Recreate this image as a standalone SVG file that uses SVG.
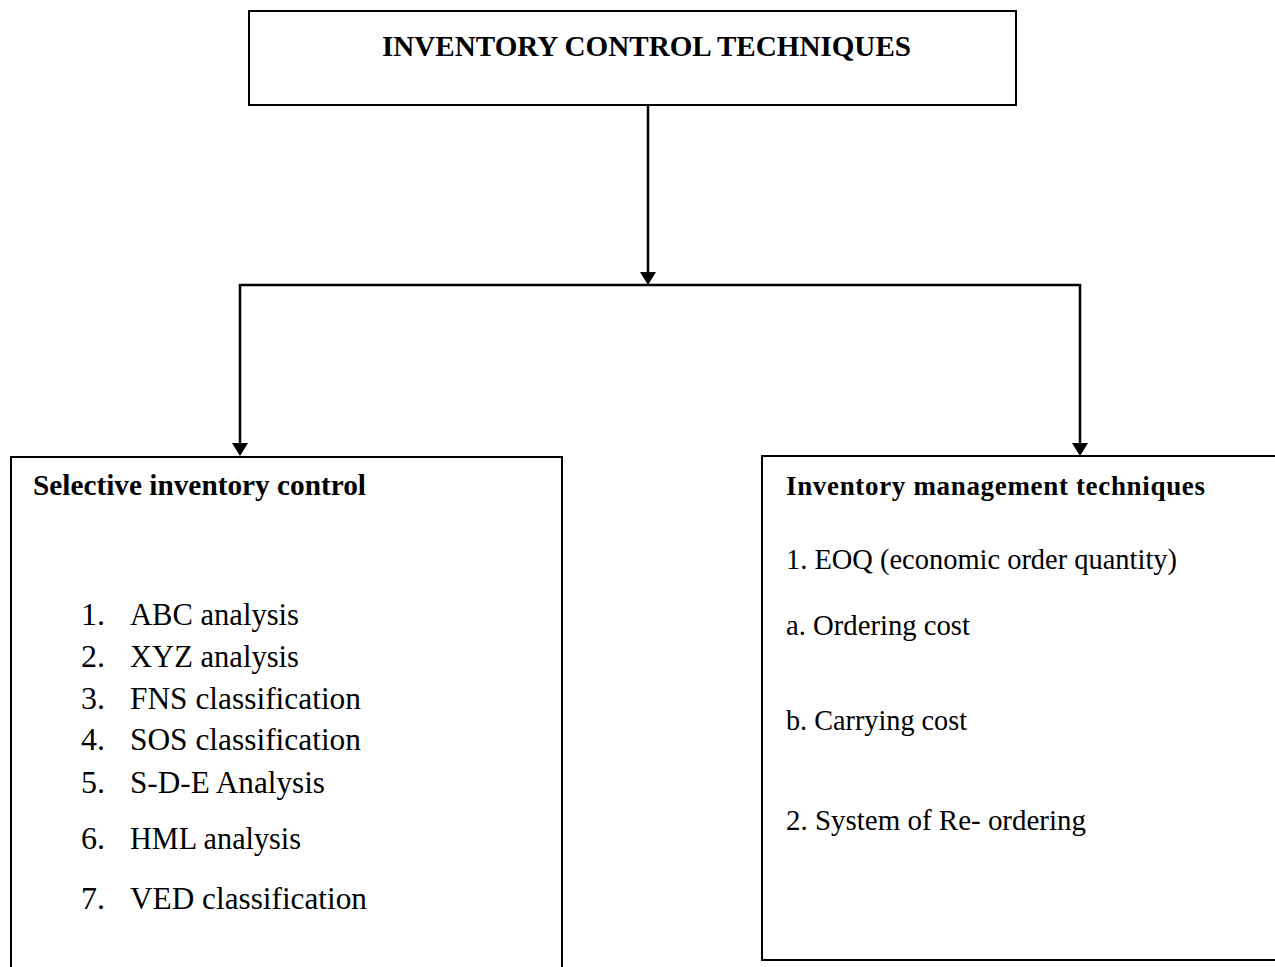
<svg xmlns="http://www.w3.org/2000/svg" width="1275" height="967" viewBox="0 0 1275 967">
<style>
.box{fill:#fff;stroke:#000;stroke-width:2}
.ln{fill:none;stroke:#000;stroke-width:2.5}
.ah{fill:#000}
.t{font-family:"Liberation Serif","Times New Roman",serif;fill:#000}
.b{font-weight:bold}
.li{font-size:32px}
.ri{font-size:30px}
</style>
<g id="title">
<rect class="box" x="249" y="11" width="767" height="94"/>
<text class="t b" x="382" y="56" font-size="30" textLength="529" lengthAdjust="spacingAndGlyphs">INVENTORY CONTROL TECHNIQUES</text>
</g>
<g id="connectors">
<line class="ln" x1="648" y1="105" x2="648" y2="274"/>
<path class="ah" d="M640,272 L656,272 L648,285 Z"/>
<polyline class="ln" points="240,445 240,285 1080,285 1080,445"/>
<path class="ah" d="M232,443 L248,443 L240,456 Z"/>
<path class="ah" d="M1072,443 L1088,443 L1080,456 Z"/>
</g>
<g id="selective">
<rect class="box" x="11" y="457" width="551" height="520"/>
<text class="t b" x="33" y="495" font-size="29" textLength="333" lengthAdjust="spacingAndGlyphs">Selective inventory control</text>
<g class="t li">
<text x="81" y="625">1.</text><text x="130" y="625" textLength="169" lengthAdjust="spacingAndGlyphs">ABC analysis</text>
<text x="81" y="667">2.</text><text x="130" y="667" textLength="169" lengthAdjust="spacingAndGlyphs">XYZ analysis</text>
<text x="81" y="709">3.</text><text x="130" y="709" textLength="231" lengthAdjust="spacingAndGlyphs">FNS classification</text>
<text x="81" y="750">4.</text><text x="130" y="750" textLength="231" lengthAdjust="spacingAndGlyphs">SOS classification</text>
<text x="81" y="793">5.</text><text x="130" y="793" textLength="195" lengthAdjust="spacingAndGlyphs">S-D-E Analysis</text>
<text x="81" y="849">6.</text><text x="130" y="849" textLength="171" lengthAdjust="spacingAndGlyphs">HML analysis</text>
<text x="81" y="909">7.</text><text x="130" y="909" textLength="237" lengthAdjust="spacingAndGlyphs">VED classification</text>
</g>
</g>
<g id="management">
<rect class="box" x="762" y="456" width="530" height="504"/>
<text class="t b" x="786" y="495" font-size="27" textLength="419" lengthAdjust="spacing">Inventory management techniques</text>
<g class="t ri">
<text x="786" y="569" textLength="391" lengthAdjust="spacingAndGlyphs">1. EOQ (economic order quantity)</text>
<text x="786" y="635" textLength="184" lengthAdjust="spacingAndGlyphs">a. Ordering cost</text>
<text x="786" y="730" textLength="181" lengthAdjust="spacingAndGlyphs">b. Carrying cost</text>
<text x="786" y="830" textLength="300" lengthAdjust="spacingAndGlyphs">2. System of Re- ordering</text>
</g>
</g>
</svg>
